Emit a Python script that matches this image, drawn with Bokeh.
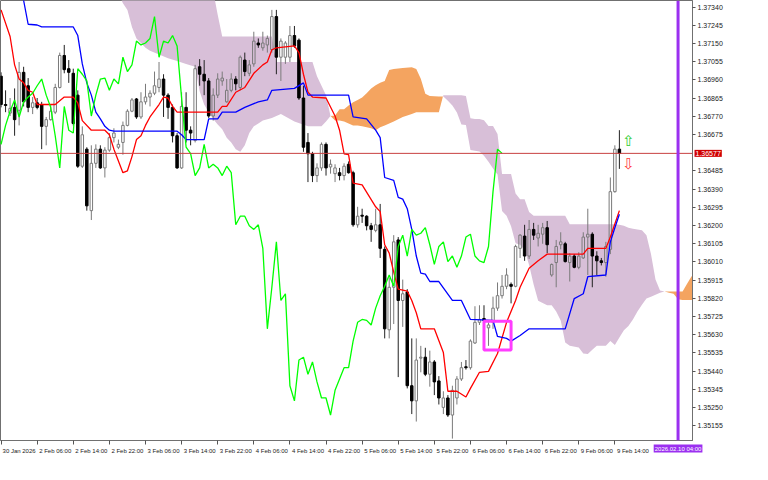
import numpy as np
from bokeh.plotting import figure
from bokeh.models import FixedTicker, Range1d, Label, Span, PrintfTickFormatter
from bokeh.embed import file_html
from bokeh.resources import INLINE
from bokeh.core.properties import value

# ---------------- data (H1 bars, bar 0 = 30 Jan 22:00) ----------------
open_prices = [
    1.36980, 1.36832, 1.36787, 1.36817, 1.36802, 1.37000, 1.36930, 1.36817, 1.36841, 1.36832,
    1.36718, 1.36753, 1.36792, 1.36921, 1.37088, 1.37019, 1.36995, 1.36881, 1.36510, 1.36599,
    1.36278, 1.36525, 1.36599, 1.36501, 1.36594, 1.36659, 1.36609, 1.36634, 1.36723, 1.36797,
    1.36861, 1.36767, 1.36846, 1.36871, 1.36891, 1.36921, 1.36965, 1.36881, 1.36817, 1.36669,
    1.36501, 1.36817, 1.36698, 1.36644, 1.37029, 1.36990, 1.36955, 1.36772, 1.36881, 1.36955,
    1.36846, 1.36906, 1.36965, 1.36921, 1.37064, 1.36995, 1.37044, 1.37153, 1.37128, 1.37143,
    1.37118, 1.37291, 1.37079, 1.37079, 1.37079, 1.37192, 1.37168, 1.36866, 1.36634, 1.36575,
    1.36461, 1.36501, 1.36624, 1.36506, 1.36471, 1.36476, 1.36461, 1.36520, 1.36476, 1.36204,
    1.36254, 1.36249, 1.36199, 1.36175, 1.36204, 1.36076, 1.35656, 1.35878, 1.36125, 1.35809,
    1.35853, 1.35364, 1.35285, 1.35508, 1.35513, 1.35424, 1.35488, 1.35389, 1.35251, 1.35300,
    1.35211, 1.35300, 1.35399, 1.35463, 1.35458, 1.35587, 1.35695, 1.35715, 1.35666, 1.35695,
    1.35769, 1.35834, 1.35883, 1.35893, 1.35883, 1.36081, 1.36145, 1.36041, 1.36180, 1.36135,
    1.36155, 1.36189, 1.35942, 1.36007, 1.36100, 1.36105, 1.36007, 1.36041, 1.35982, 1.36031,
    1.36140, 1.36155, 1.36041, 1.36016, 1.36007, 1.36076, 1.36377, 1.36599,
]
high_prices = [
    1.37000, 1.36906, 1.36866, 1.36916, 1.37054, 1.37029, 1.36970, 1.36871, 1.36866, 1.36846,
    1.36767, 1.36832, 1.36940, 1.37103, 1.37143, 1.37064, 1.37019, 1.36906, 1.36718, 1.36609,
    1.36619, 1.36624, 1.36619, 1.36609, 1.36683, 1.36708, 1.36649, 1.36743, 1.36807, 1.36866,
    1.36866, 1.36896, 1.36940, 1.36906, 1.37004, 1.37054, 1.36990, 1.36891, 1.36832, 1.36683,
    1.36896, 1.36896, 1.36718, 1.37039, 1.37069, 1.37064, 1.36970, 1.36916, 1.36995, 1.37004,
    1.36965, 1.36995, 1.36980, 1.37088, 1.37103, 1.37064, 1.37212, 1.37177, 1.37212, 1.37192,
    1.37326, 1.37326, 1.37177, 1.37163, 1.37242, 1.37242, 1.37177, 1.36930, 1.36683, 1.36585,
    1.36525, 1.36634, 1.36634, 1.36545, 1.36520, 1.36501, 1.36525, 1.36535, 1.36486, 1.36298,
    1.36288, 1.36254, 1.36214, 1.36288, 1.36313, 1.36091, 1.35928, 1.36150, 1.36140, 1.35918,
    1.35868, 1.35611, 1.35611, 1.35572, 1.35562, 1.35547, 1.35498, 1.35414, 1.35335, 1.35315,
    1.35364, 1.35414, 1.35488, 1.35498, 1.35606, 1.35779, 1.35784, 1.35784, 1.35695, 1.35829,
    1.35903, 1.35942, 1.35977, 1.35903, 1.36100, 1.36155, 1.36204, 1.36229, 1.36214, 1.36204,
    1.36214, 1.36224, 1.36002, 1.36125, 1.36165, 1.36115, 1.36056, 1.36051, 1.36061, 1.36165,
    1.36288, 1.36165, 1.36066, 1.36031, 1.36115, 1.36451, 1.36619, 1.36698,
]
low_prices = [
    1.36817, 1.36792, 1.36772, 1.36669, 1.36723, 1.36822, 1.36792, 1.36782, 1.36807, 1.36599,
    1.36619, 1.36748, 1.36782, 1.36916, 1.36995, 1.36945, 1.36723, 1.36501, 1.36501, 1.36278,
    1.36229, 1.36501, 1.36496, 1.36451, 1.36585, 1.36634, 1.36599, 1.36570, 1.36718, 1.36792,
    1.36757, 1.36757, 1.36832, 1.36822, 1.36881, 1.36896, 1.36767, 1.36757, 1.36634, 1.36496,
    1.36496, 1.36634, 1.36619, 1.36634, 1.36930, 1.36881, 1.36762, 1.36748, 1.36866, 1.36930,
    1.36841, 1.36896, 1.36906, 1.36906, 1.36980, 1.36980, 1.37029, 1.37128, 1.37113, 1.37103,
    1.37103, 1.36990, 1.36955, 1.37044, 1.37054, 1.37128, 1.36856, 1.36585, 1.36427, 1.36427,
    1.36427, 1.36486, 1.36461, 1.36471, 1.36427, 1.36436, 1.36436, 1.36471, 1.36194, 1.36189,
    1.36214, 1.36175, 1.36115, 1.36165, 1.36031, 1.35611, 1.35611, 1.35686, 1.35409, 1.35671,
    1.35350, 1.35216, 1.35177, 1.35434, 1.35414, 1.35359, 1.35315, 1.35266, 1.35216, 1.35201,
    1.35088, 1.35266, 1.35389, 1.35448, 1.35448, 1.35582, 1.35681, 1.35695, 1.35572, 1.35661,
    1.35755, 1.35819, 1.35868, 1.35794, 1.35878, 1.36031, 1.36016, 1.36026, 1.36125, 1.36091,
    1.36105, 1.36056, 1.35933, 1.35878, 1.36076, 1.36007, 1.35908, 1.35977, 1.35972, 1.36026,
    1.35942, 1.35878, 1.35942, 1.35992, 1.35933, 1.36051, 1.36372, 1.36496,
]
close_prices = [
    1.36832, 1.36827, 1.36812, 1.36753, 1.37000, 1.36846, 1.36817, 1.36841, 1.36817, 1.36718,
    1.36753, 1.36797, 1.36921, 1.37088, 1.37014, 1.37000, 1.36733, 1.36510, 1.36674, 1.36303,
    1.36525, 1.36599, 1.36501, 1.36594, 1.36659, 1.36683, 1.36624, 1.36723, 1.36797, 1.36856,
    1.36767, 1.36846, 1.36871, 1.36891, 1.36930, 1.36965, 1.36881, 1.36817, 1.36669, 1.36501,
    1.36822, 1.36698, 1.36683, 1.37019, 1.36990, 1.36955, 1.36772, 1.36881, 1.36965, 1.36970,
    1.36906, 1.36965, 1.36940, 1.37079, 1.37004, 1.37039, 1.37163, 1.37143, 1.37153, 1.37177,
    1.37291, 1.37079, 1.37163, 1.37153, 1.37192, 1.37138, 1.36866, 1.36609, 1.36575, 1.36461,
    1.36501, 1.36624, 1.36501, 1.36520, 1.36501, 1.36461, 1.36510, 1.36476, 1.36204, 1.36249,
    1.36249, 1.36199, 1.36180, 1.36204, 1.36081, 1.35661, 1.35878, 1.36115, 1.35809, 1.35844,
    1.35364, 1.35285, 1.35498, 1.35513, 1.35424, 1.35488, 1.35384, 1.35300, 1.35300, 1.35211,
    1.35340, 1.35399, 1.35458, 1.35458, 1.35597, 1.35695, 1.35710, 1.35705, 1.35681, 1.35769,
    1.35834, 1.35883, 1.35942, 1.35883, 1.36091, 1.36150, 1.36041, 1.36180, 1.36150, 1.36160,
    1.36189, 1.36100, 1.35997, 1.36091, 1.36115, 1.36012, 1.36041, 1.35982, 1.36041, 1.36140,
    1.36155, 1.36041, 1.36016, 1.36007, 1.36091, 1.36377, 1.36599, 1.36577,
]

# Tenkan-sen (red) vertices: bar index, price
tenkan_idx = [0, 2, 3, 4, 5, 6, 7, 8, 12, 14, 16, 17, 18, 20, 23, 24, 25, 27, 28, 29, 30, 31, 32, 33,
              35, 36, 37, 38, 39, 48, 49, 50, 52, 54, 56, 58, 59, 60, 61, 65, 66, 67, 68, 69, 72, 74,
              75, 76, 77, 78, 80, 83, 84, 85, 86, 87, 88, 90, 91, 92, 93, 96, 98, 99, 101, 103, 104,
              106, 108, 110, 112, 114, 115, 117, 119, 121, 126, 129, 130, 134, 135, 137]
tenkan_val = [1.37326, 1.37187, 1.37039, 1.36965, 1.36945, 1.36906, 1.36896, 1.36832, 1.36832, 1.36871,
              1.36871, 1.36841, 1.36748, 1.36698, 1.36698, 1.36674, 1.36599, 1.36476, 1.36486, 1.36560,
              1.36649, 1.36669, 1.36723, 1.36767, 1.36832, 1.36871, 1.36866, 1.36822, 1.36792, 1.36792,
              1.36822, 1.36822, 1.36896, 1.36921, 1.36995, 1.37039, 1.37054, 1.37118, 1.37128, 1.37138,
              1.37103, 1.36990, 1.36896, 1.36871, 1.36866, 1.36772, 1.36698, 1.36575, 1.36570, 1.36422,
              1.36412, 1.36298, 1.36273, 1.36100, 1.36056, 1.35957, 1.35868, 1.35858, 1.35809, 1.35745,
              1.35661, 1.35661, 1.35537, 1.35335, 1.35335, 1.35305, 1.35350, 1.35434, 1.35439, 1.35532,
              1.35695, 1.35809, 1.35878, 1.35977, 1.36016, 1.36051, 1.36051, 1.36051, 1.36081, 1.36081,
              1.36140, 1.36278]

# Kijun-sen (blue) vertices
kijun_idx = [4, 5, 6, 8, 9, 16, 17, 18, 19, 20, 21, 22, 23, 24, 25, 39, 40, 41, 45, 46, 48, 49, 52, 54,
             57, 59, 60, 65, 67, 68, 77, 78, 81, 83, 84, 85, 87, 88, 89, 90, 91, 92, 93, 94, 95, 97,
             100, 102, 104, 109, 110, 112, 113, 115, 117, 125, 127, 129, 130, 134, 135, 136, 137]
kijun_val = [1.37474, 1.37375, 1.37251, 1.37247, 1.37237, 1.37237, 1.37192, 1.37044, 1.36945, 1.36881,
             1.36792, 1.36757, 1.36718, 1.36698, 1.36693, 1.36693, 1.36674, 1.36649, 1.36649, 1.36757,
             1.36757, 1.36792, 1.36792, 1.36817, 1.36846, 1.36856, 1.36906, 1.36916, 1.36945, 1.36881,
             1.36881, 1.36767, 1.36757, 1.36698, 1.36659, 1.36451, 1.36436, 1.36347, 1.36338, 1.36288,
             1.36180, 1.36041, 1.35952, 1.35947, 1.35908, 1.35908, 1.35809, 1.35809, 1.35710, 1.35705,
             1.35621, 1.35611, 1.35597, 1.35626, 1.35661, 1.35661, 1.35819, 1.35844, 1.35933, 1.35942,
             1.36115, 1.36189, 1.36259]

chikou_shift = 26

# Kumo: Senkou span A / span B vertices (bar index, price)
cloud_idx = [25, 26, 27, 28, 29, 30, 31, 32, 33, 35,
             37, 39, 41, 43, 44, 45, 46, 47, 48, 49,
             50, 51, 52, 53, 54, 55, 56, 57, 58, 60,
             61, 62, 65, 68, 69, 70, 71, 72, 73, 74,
             75, 76, 77, 78, 79, 80, 81, 82, 83, 84,
             85, 86, 87, 89, 91, 92, 93, 94, 95, 97,
             97.9, 98, 99, 100, 101, 102, 103, 104, 105, 106,
             107, 108, 109, 110, 111, 112, 113, 114, 115, 116,
             117, 118, 119, 121, 122, 123, 124, 125, 126, 128,
             129, 130, 131, 132, 134, 135, 136, 137, 138, 139,
             140, 141, 142, 143, 144, 145, 146, 147, 148, 149,
             150, 151, 152, 153, 154]
span_a = [1.37424, 1.37415, 1.37360, 1.37326, 1.37237, 1.37177, 1.37153, 1.37128, 1.37113, 1.37093,
          1.37074, 1.37059, 1.37044, 1.37029, 1.36901, 1.36832, 1.36792, 1.36757, 1.36728, 1.36703,
          1.36659, 1.36634, 1.36599, 1.36585, 1.36619, 1.36683, 1.36718, 1.36733, 1.36748, 1.36762,
          1.36772, 1.36782, 1.36743, 1.36718, 1.36718, 1.36718, 1.36718, 1.36743, 1.36772, 1.36775,
          1.36807, 1.36807, 1.36827, 1.36844, 1.36856, 1.36869, 1.36891, 1.36916, 1.36933, 1.36945,
          1.36955, 1.37012, 1.37017, 1.37022, 1.37027, 1.37017, 1.36967, 1.36888, 1.36876, 1.36874,
          1.36874, 1.36874, 1.36851, 1.36827, 1.36790, 1.36728, 1.36725, 1.36594, 1.36590, 1.36587,
          1.36565, 1.36533, 1.36498, 1.36466, 1.36276, 1.36251, 1.36197, 1.36108, 1.36100, 1.36073,
          1.35994, 1.35893, 1.35807, 1.35784, 1.35784, 1.35752, 1.35705, 1.35589, 1.35572, 1.35564,
          1.35532, 1.35530, 1.35552, 1.35572, 1.35572, 1.35597, 1.35577, 1.35616, 1.35653, 1.35676,
          1.35710, 1.35752, 1.35787, 1.35819, 1.35829, 1.35839, 1.35849, 1.35856, 1.35856, 1.35856,
          1.35856, 1.35856, 1.35896, 1.35935, 1.35942]
span_b = [1.37573, 1.37573, 1.37573, 1.37573, 1.37573, 1.37573, 1.37573, 1.37573, 1.37573, 1.37573,
          1.37573, 1.37573, 1.37573, 1.37573, 1.37573, 1.37573, 1.37573, 1.37424, 1.37301, 1.37187,
          1.37187, 1.37187, 1.37187, 1.37187, 1.37187, 1.37187, 1.37187, 1.37187, 1.37187, 1.37187,
          1.37054, 1.37054, 1.37054, 1.37054, 1.37054, 1.36980, 1.36930, 1.36881, 1.36772, 1.36748,
          1.36748, 1.36743, 1.36733, 1.36723, 1.36723, 1.36718, 1.36713, 1.36708, 1.36698, 1.36713,
          1.36723, 1.36733, 1.36743, 1.36767, 1.36782, 1.36792, 1.36792, 1.36792, 1.36792, 1.36792,
          1.36874, 1.36881, 1.36881, 1.36881, 1.36881, 1.36881, 1.36876, 1.36760, 1.36757, 1.36757,
          1.36750, 1.36720, 1.36720, 1.36678, 1.36469, 1.36469, 1.36469, 1.36367, 1.36338, 1.36338,
          1.36271, 1.36251, 1.36251, 1.36251, 1.36251, 1.36251, 1.36251, 1.36251, 1.36207, 1.36207,
          1.36207, 1.36207, 1.36207, 1.36207, 1.36207, 1.36207, 1.36207, 1.36204, 1.36199, 1.36189,
          1.36184, 1.36180, 1.36175, 1.36150, 1.36051, 1.35918, 1.35861, 1.35856, 1.35849, 1.35844,
          1.35816, 1.35812, 1.35812, 1.35812, 1.35812]

time_tick_index = [0, 8, 16, 24, 32, 40, 48, 56, 64, 72, 80, 88, 96, 104, 112, 120, 128, 136]
time_tick_labels = ["30 Jan 2026", "2 Feb 06:00", "2 Feb 14:00", "2 Feb 22:00", "3 Feb 06:00",
                    "3 Feb 14:00", "3 Feb 22:00", "4 Feb 06:00", "4 Feb 14:00", "4 Feb 22:00",
                    "5 Feb 06:00", "5 Feb 14:00", "5 Feb 22:00", "6 Feb 06:00", "6 Feb 14:00",
                    "6 Feb 22:00", "9 Feb 06:00", "9 Feb 14:00"]
price_ticks = [1.35155, 1.35250, 1.35345, 1.35440, 1.35535, 1.35630, 1.35725, 1.35820, 1.35915,
               1.36010, 1.36105, 1.36200, 1.36295, 1.36390, 1.36485, 1.36675, 1.36770, 1.36865,
               1.36960, 1.37055, 1.37150, 1.37245, 1.37340]

current_price = 1.36577
vline_index = 150
vline_label = "2026.02.10 04:00"
box_index = [107, 113]
box_price = [1.35550, 1.35700]
signal_index = [139, 139]
signal_price = [1.36640, 1.36520]
signal_text = ["\u21e7", "\u21e9"]
signal_color = ["#2ecc2e", "#ff3b3b"]

# ---------------- figure ----------------
FONT = "Liberation Sans"
X_END = 153.2
Y_START, Y_END = 1.35078, 1.37375
p = figure(width=752, height=464, output_backend="svg", toolbar_location=None,
           x_range=Range1d(-0.125, X_END), y_range=Range1d(Y_START, Y_END),
           y_axis_location="right", min_border_left=0, min_border_top=0,
           min_border_bottom=0, min_border_right=0)
p.background_fill_color = "white"
p.border_fill_color = "white"
p.outline_line_color = "#707070"
p.grid.visible = False

# cloud: thistle where span B is above span A, sandy brown where span A is above span B
ci = np.array(cloud_idx, dtype=float)
sa = np.array(span_a)
sb = np.array(span_b)
upper = np.maximum(sa, sb)
p.varea(x=ci, y1=sa, y2=upper, fill_color="#D8BFD8", fill_alpha=1.0)
p.varea(x=ci, y1=sb, y2=upper, fill_color="#F4A460", fill_alpha=1.0)

# candles
o = np.array(open_prices); h = np.array(high_prices)
l = np.array(low_prices); c = np.array(close_prices)
idx = np.arange(len(o))
up = c >= o
dn = ~up
body_top = np.maximum(o, c)
body_bot = np.minimum(o, c)

p.segment(x0=idx[up], y0=h[up], x1=idx[up], y1=body_top[up], line_color="#7a7a7a", line_width=1)
p.segment(x0=idx[up], y0=body_bot[up], x1=idx[up], y1=l[up], line_color="#7a7a7a", line_width=1)
p.segment(x0=idx[dn], y0=h[dn], x1=idx[dn], y1=l[dn], line_color="#222222", line_width=1)
p.vbar(x=idx[up], width=0.55, top=body_top[up], bottom=body_bot[up],
       fill_alpha=0.0, line_color="#7a7a7a", line_width=1)
p.vbar(x=idx[dn], width=0.55, top=body_top[dn], bottom=body_bot[dn],
       fill_color="black", line_color="black", line_width=1)

# Ichimoku lines
p.line(x=tenkan_idx, y=tenkan_val, line_color="#ff0000", line_width=1.3)
p.line(x=kijun_idx, y=kijun_val, line_color="#0000ff", line_width=1.3)
p.line(x=idx - chikou_shift, y=c, line_color="#00ff00", line_width=1.3)

# objects
p.quad(left=[box_index[0]], right=[box_index[1]], bottom=[box_price[0]], top=[box_price[1]],
       fill_alpha=0.0, line_color="#ff3dff", line_width=3)
p.text(x=signal_index, y=signal_price, text=signal_text, text_color=signal_color,
       text_font=value("DejaVu Sans"), text_font_size="15px",
       text_align="center", text_baseline="middle")

p.add_layout(Span(location=current_price, dimension="width", line_color="#c84040", line_width=1))
p.add_layout(Span(location=vline_index, dimension="height", line_color="#9b30f0", line_width=3))

# axes
yax = p.yaxis[0]
yax.ticker = FixedTicker(ticks=price_ticks)
yax.formatter = PrintfTickFormatter(format="%.5f")
yax.major_label_text_font = FONT
yax.major_label_text_font_size = "7px"
yax.major_label_text_color = "#222222"
yax.major_tick_in = 0
yax.major_tick_out = 3
yax.minor_tick_line_color = None
yax.major_label_standoff = 2
yax.axis_line_color = "#707070"
yax.major_tick_line_color = "#555555"

LABEL_SHIFT = 4.0
centers = [t + LABEL_SHIFT for t in time_tick_index]
xax = p.xaxis[0]
xax.ticker = FixedTicker(ticks=centers, minor_ticks=[float(t) for t in time_tick_index])
xax.major_label_overrides = {cc: lab for cc, lab in zip(centers, time_tick_labels)}
xax.major_label_text_font = FONT
xax.major_label_text_font_size = "6px"
xax.major_label_text_color = "#222222"
xax.major_tick_in = 0
xax.major_tick_out = 0
xax.minor_tick_in = 0
xax.minor_tick_out = 4
xax.minor_tick_line_color = "#555555"
xax.major_label_standoff = 3
xax.axis_line_color = "#707070"

# price & time labels on the axes (side panels -> not clipped to the frame)
p.add_layout(Label(x=X_END, y=current_price, x_offset=2, text=f"{current_price:.5f}",
                   text_color="white", text_font=FONT, text_font_size="7px",
                   text_baseline="middle", text_align="left",
                   background_fill_color="#d00000", padding=1), "right")
p.add_layout(Label(x=vline_index, y=Y_START, y_offset=-8, text=vline_label,
                   text_color="white", text_font=FONT, text_font_size="6px",
                   text_baseline="middle", text_align="center",
                   background_fill_color="#9b30f0", padding=1), "below")

open("out.html", "w").write(file_html(p, INLINE))
